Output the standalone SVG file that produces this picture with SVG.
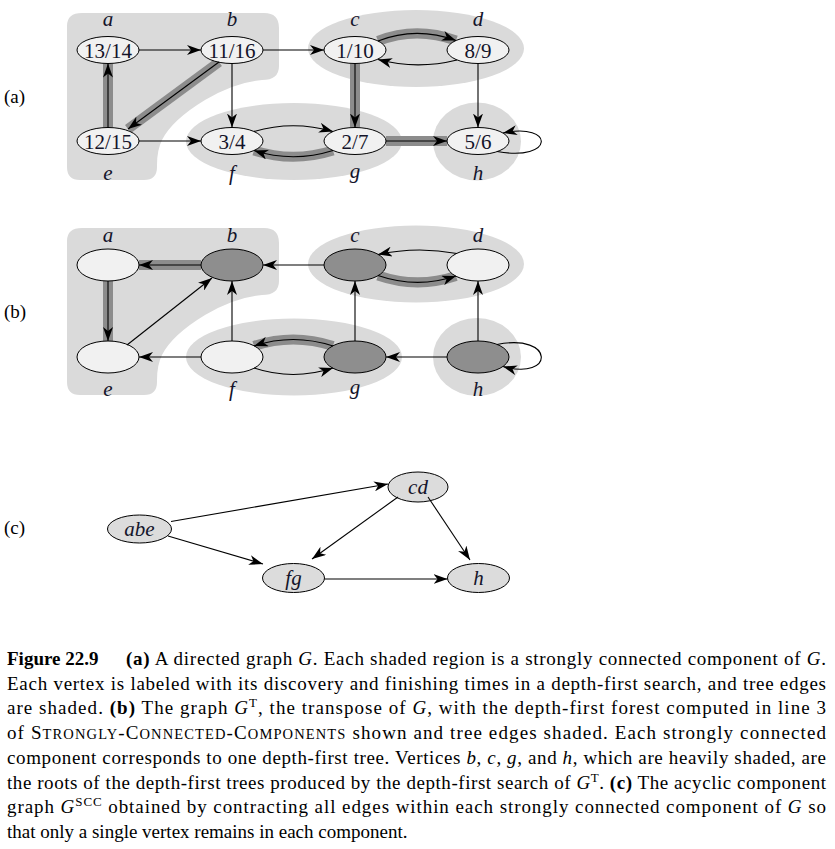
<svg xmlns="http://www.w3.org/2000/svg" width="835" height="849" viewBox="0 0 835 849">
<style>
.bg{fill:#ffffff}
.reg{fill:#dadada;stroke:none}
.nl{fill:#f1f1f1;stroke:#000;stroke-width:1}
.nd{fill:#8e8e8e;stroke:#000;stroke-width:1}
.nc{fill:#dcdcdc;stroke:#000;stroke-width:1}
.band{fill:none;stroke:#8c8c8c;stroke-width:10}
.e{fill:none;stroke:#000;stroke-width:1.1;marker-end:url(#ah)}
.num{font-family:"Liberation Serif",serif;font-size:21px;fill:#14142a;text-anchor:middle}
.lab{font-family:"Liberation Serif",serif;font-size:21px;font-style:italic;fill:#14142a;text-anchor:middle}
.part{font-family:"Liberation Serif",serif;font-size:19px;fill:#000}
.cap{font-family:"Liberation Serif",serif;font-size:19px;fill:#000}
.b{font-weight:bold}
.i{font-style:italic}
</style>
<defs>
<marker id="ah" markerUnits="userSpaceOnUse" markerWidth="14" markerHeight="10" viewBox="0 0 14 10" refX="14" refY="5" orient="auto">
<path d="M0,0 L14,5 L0,10 L4,5 Z" fill="#000"/>
</marker>
<path id="abeRegion" d="M 82,13 H 264 Q 279,13 279,28 V 66 Q 279,80 262,80 Q 235,82 205,100 Q 172,120 162,140 Q 157,150 157,165 V 167 Q 157,180 144,180 H 80 Q 67,180 67,167 V 26 Q 67,13 82,13 Z"/>
</defs>
<rect class="bg" x="0" y="0" width="835" height="849"/>

<!-- part labels -->
<text class="part" x="4" y="103">(a)</text>
<text class="part" x="4" y="318">(b)</text>
<text class="part" x="4" y="534">(c)</text>

<!-- ===== (a) ===== -->
<g id="a-regions">
<use href="#abeRegion" class="reg"/>
<ellipse class="reg" cx="416" cy="48.5" rx="108" ry="38.5"/>
<ellipse class="reg" cx="294" cy="141.5" rx="108" ry="38.5"/>
<ellipse class="reg" cx="477" cy="141.5" rx="44" ry="39"/>
</g>
<g id="a-bands">
<path class="band" d="M 108,127.5 L 108,63.5"/>
<path class="band" d="M 219,62 L 128,129"/>
<path class="band" d="M 355,63.5 L 355,127.5"/>
<path class="band" d="M 386,141 L 447,141"/>
<path class="band" d="M 378,41 Q 416,26 456,40.5"/>
<path class="band" d="M 333,150.5 Q 293,163 254,150.5"/>
</g>
<g id="a-node-a"><ellipse class="nl" cx="108" cy="50" rx="31" ry="13.5"/><text class="num" x="108" y="57.5">13/14</text><text class="lab" x="108" y="26">a</text></g>
<g id="a-node-b"><ellipse class="nl" cx="232" cy="50" rx="31" ry="13.5"/><text class="num" x="232" y="57.5">11/16</text><text class="lab" x="232" y="26">b</text></g>
<g id="a-node-c"><ellipse class="nl" cx="355" cy="50" rx="31" ry="13.5"/><text class="num" x="355" y="57.5">1/10</text><text class="lab" x="355" y="26">c</text></g>
<g id="a-node-d"><ellipse class="nl" cx="478" cy="50" rx="31" ry="13.5"/><text class="num" x="478" y="57.5">8/9</text><text class="lab" x="478" y="26">d</text></g>
<g id="a-node-e"><ellipse class="nl" cx="108" cy="141" rx="31" ry="13.5"/><text class="num" x="108" y="148.5">12/15</text><text class="lab" x="108" y="180">e</text></g>
<g id="a-node-f"><ellipse class="nl" cx="232" cy="141" rx="31" ry="13.5"/><text class="num" x="232" y="148.5">3/4</text><text class="lab" x="232" y="180">f</text></g>
<g id="a-node-g"><ellipse class="nl" cx="355" cy="141" rx="31" ry="13.5"/><text class="num" x="355" y="148.5">2/7</text><text class="lab" x="355" y="178">g</text></g>
<g id="a-node-h"><ellipse class="nl" cx="478" cy="141" rx="31" ry="13.5"/><text class="num" x="478" y="148.5">5/6</text><text class="lab" x="478" y="180">h</text></g>
<g id="a-connectors">
<path class="e" d="M 139,50 L 201,50"/>
<path class="e" d="M 263,50 L 324,50"/>
<path class="e" d="M 232,63.5 L 232,127.5"/>
<path class="e" d="M 139,141 L 201,141"/>
<path class="e" d="M 478,63.5 L 478,127.5"/>
<path class="e" d="M 108,127.5 L 108,63.5"/>
<path class="e" d="M 219,62 L 128,129"/>
<path class="e" d="M 355,63.5 L 355,127.5"/>
<path class="e" d="M 386,141 L 447,141"/>
<path class="e" d="M 378,41 Q 416,26 456,40.5"/>
<path class="e" d="M 457,60 Q 417,70 378,59.5"/>
<path class="e" d="M 254,131.5 Q 293,120 333,131.5"/>
<path class="e" d="M 333,150.5 Q 293,163 254,150.5"/>
<path class="e" d="M 497,151.5 C 555,162 555,122 503,133"/>
</g>

<!-- ===== (b) ===== -->
<g id="b-regions">
<use href="#abeRegion" class="reg" transform="translate(0,215)"/>
<ellipse class="reg" cx="416" cy="264" rx="108" ry="38.5"/>
<ellipse class="reg" cx="294" cy="357" rx="108" ry="38.5"/>
<ellipse class="reg" cx="477" cy="357" rx="44" ry="39"/>
</g>
<g id="b-bands">
<path class="band" d="M 201,265 L 139,265"/>
<path class="band" d="M 108,281 L 108,341"/>
<path class="band" d="M 378,275.5 Q 417,289 456,276"/>
<path class="band" d="M 333,346 Q 293,333 254,346"/>
</g>
<g id="b-node-a"><ellipse class="nl" cx="108" cy="265" rx="31" ry="16"/><text class="lab" x="108" y="242">a</text></g>
<g id="b-node-b"><ellipse class="nd" cx="232" cy="265" rx="31" ry="16"/><text class="lab" x="232" y="242">b</text></g>
<g id="b-node-c"><ellipse class="nd" cx="355" cy="265" rx="31" ry="16"/><text class="lab" x="355" y="242">c</text></g>
<g id="b-node-d"><ellipse class="nl" cx="478" cy="265" rx="31" ry="16"/><text class="lab" x="478" y="242">d</text></g>
<g id="b-node-e"><ellipse class="nl" cx="108" cy="357" rx="31" ry="16"/><text class="lab" x="108" y="396">e</text></g>
<g id="b-node-f"><ellipse class="nl" cx="232" cy="357" rx="31" ry="16"/><text class="lab" x="232" y="396">f</text></g>
<g id="b-node-g"><ellipse class="nd" cx="355" cy="357" rx="31" ry="16"/><text class="lab" x="355" y="394">g</text></g>
<g id="b-node-h"><ellipse class="nd" cx="478" cy="357" rx="31" ry="16"/><text class="lab" x="478" y="396">h</text></g>
<g id="b-connectors">
<path class="e" d="M 201,265 L 139,265"/>
<path class="e" d="M 324,265 L 263,265"/>
<path class="e" d="M 108,281 L 108,341"/>
<path class="e" d="M 127,345 L 212,278"/>
<path class="e" d="M 201,357 L 139,357"/>
<path class="e" d="M 232,341 L 232,281"/>
<path class="e" d="M 355,341 L 355,281"/>
<path class="e" d="M 478,341 L 478,281"/>
<path class="e" d="M 447,357 L 386,357"/>
<path class="e" d="M 457,253.5 Q 417,246 378,254.5"/>
<path class="e" d="M 378,275.5 Q 417,289 456,276"/>
<path class="e" d="M 333,346 Q 293,333 254,346"/>
<path class="e" d="M 254,368 Q 293,381 333,368"/>
<path class="e" d="M 497,344.5 C 555,333 555,381 503,366.5"/>
</g>

<!-- ===== (c) ===== -->
<g id="c-node-abe"><ellipse class="nc" cx="139.5" cy="529" rx="32" ry="14"/><text class="lab" x="139.5" y="535.5">abe</text></g>
<g id="c-node-cd"><ellipse class="nc" cx="418" cy="487" rx="30" ry="15"/><text class="lab" x="418" y="493.5">cd</text></g>
<g id="c-node-fg"><ellipse class="nc" cx="293.5" cy="578" rx="31" ry="14.5"/><text class="lab" x="293.5" y="584.5">fg</text></g>
<g id="c-node-h"><ellipse class="nc" cx="478.5" cy="578" rx="31" ry="14.5"/><text class="lab" x="478.5" y="584.5">h</text></g>
<g id="c-connectors">
<path class="e" d="M 171,521.5 L 388,484"/>
<path class="e" d="M 168,536 L 263,564"/>
<path class="e" d="M 398,497 L 312,559"/>
<path class="e" d="M 428,497 L 470,560"/>
<path class="e" d="M 324.5,579 L 447.5,579"/>
</g>

<!-- ===== caption ===== -->
<g id="caption" class="cap">
<text x="7" y="665"><tspan class="b">Figure 22.9</tspan></text>
<text x="126" y="665" textLength="700" lengthAdjust="spacing"><tspan class="b">(a)</tspan> A directed graph <tspan class="i">G</tspan>. Each shaded region is a strongly connected component of <tspan class="i">G</tspan>.</text>
<text x="7" y="689.7" textLength="819" lengthAdjust="spacing">Each vertex is labeled with its discovery and finishing times in a depth-first search, and tree edges</text>
<text x="7" y="714.4" textLength="819" lengthAdjust="spacing">are shaded.  <tspan class="b">(b)</tspan> The graph <tspan class="i">G</tspan><tspan dy="-7" font-size="13">T</tspan><tspan dy="7">, the transpose of </tspan><tspan class="i">G</tspan>, with the depth-first forest computed in line 3</text>
<text x="7" y="739.1" textLength="819" lengthAdjust="spacing">of S<tspan font-size="14.5">TRONGLY</tspan>-C<tspan font-size="14.5">ONNECTED</tspan>-C<tspan font-size="14.5">OMPONENTS</tspan> shown and tree edges shaded. Each strongly connected</text>
<text x="7" y="763.8" textLength="819" lengthAdjust="spacing">component corresponds to one depth-first tree. Vertices <tspan class="i">b</tspan>, <tspan class="i">c</tspan>, <tspan class="i">g</tspan>, and <tspan class="i">h</tspan>, which are heavily shaded, are</text>
<text x="7" y="788.6" textLength="819" lengthAdjust="spacing">the roots of the depth-first trees produced by the depth-first search of <tspan class="i">G</tspan><tspan dy="-7" font-size="13">T</tspan><tspan dy="7">. </tspan><tspan class="b">(c)</tspan> The acyclic component</text>
<text x="7" y="813.3" textLength="819" lengthAdjust="spacing">graph <tspan class="i">G</tspan><tspan dy="-7" font-size="13">SCC</tspan><tspan dy="7"> obtained by contracting all edges within each strongly connected component of </tspan><tspan class="i">G</tspan> so</text>
<text x="7" y="838">that only a single vertex remains in each component.</text>
</g>
</svg>
